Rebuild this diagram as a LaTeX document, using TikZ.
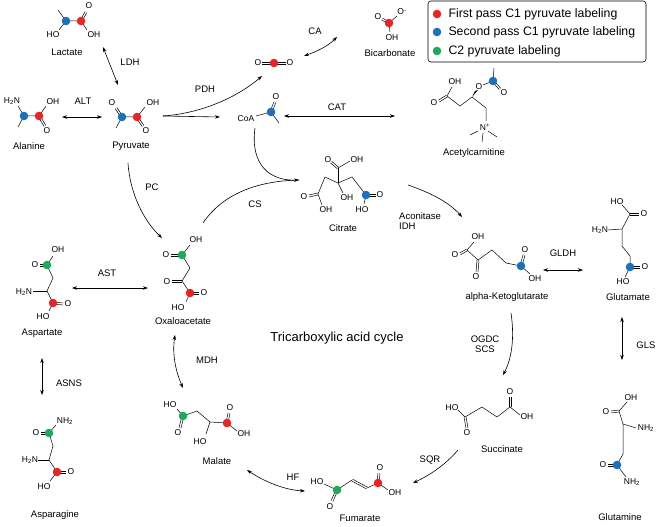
\documentclass[tikz,border=0pt]{standalone}
\usepackage{fontspec}
\setmainfont{Liberation Sans}
\usetikzlibrary{arrows.meta}
\usetikzlibrary{positioning}
\usetikzlibrary{calc}
\definecolor{firstpass}{RGB}{228,38,38}
\definecolor{secondpass}{RGB}{30,112,184}
\definecolor{ctwo}{RGB}{34,168,88}
\newcommand{\pdot}[2]{\fill[#1] #2 circle (4.3pt);}
\newcommand{\dbl}[2]{%
  \draw[bond] ($#1!1pt!90:#2$) -- ($#2!1pt!-90:#1$);
  \draw[bond] ($#1!1pt!-90:#2$) -- ($#2!1pt!90:#1$);}
\tikzset{
  bond/.style={line width=0.5pt},
  atm/.style={font=\fontsize{8.5}{8.5}\selectfont, inner sep=0.5pt},
  mol/.style={font=\fontsize{9.5}{9.5}\selectfont, inner sep=1pt},
  enz/.style={font=\fontsize{9.5}{9.5}\selectfont, inner sep=1pt},
  rxn/.style={-{Stealth[length=5pt,width=3.5pt]}, line width=0.6pt},
  rev/.style={{Stealth[length=5pt,width=3.5pt]}-{Stealth[length=5pt,width=3.5pt]}, line width=0.6pt}
}

\begin{document}
\begin{tikzpicture}[x=1pt,y=-1pt]
  \useasboundingbox (0,0) rectangle (657,527);

  % ---------- Legend ----------
  \draw[rounded corners=3pt, line width=0.6pt] (428,1) rectangle (646,62);
  \pdot{firstpass}{(437,14)}
  \pdot{secondpass}{(437,32)}
  \pdot{ctwo}{(437,51)}
  \node[anchor=west, font=\fontsize{12.3}{12.3}\selectfont] (lg1) at (445,14) {First pass C1 pyruvate labeling};
  \node[anchor=west, font=\fontsize{12.3}{12.3}\selectfont] (lg2) at (445,32) {Second pass C1 pyruvate labeling};
  \node[anchor=west, font=\fontsize{12.3}{12.3}\selectfont] (lg3) at (445,51) {C2 pyruvate labeling};

  % ---------- Lactate ----------
  \draw[bond] (58,10) -- (66,21) -- (81,21) -- (87,30);
  \draw[bond] (66,21) -- (59,30);
  \dbl{(81,21)}{(86,12)}
  \pdot{secondpass}{(66,21)} \pdot{firstpass}{(81,21)}
  \node[atm] at (53,35) {HO};
  \node[atm] at (89,6) {O};
  \node[atm] at (94,35) {OH};
  \node[mol] (lactate) at (67,52) {Lactate};

  % ---------- Pyruvate ----------
  \draw[bond] (116,128) -- (122,117) -- (137,117) -- (145,107);
  \dbl{(122,117)}{(116,108)}
  \dbl{(137,117)}{(143,126)}
  \pdot{secondpass}{(122,117)} \pdot{firstpass}{(137,117)}
  \node[atm] at (112,103) {O};
  \node[atm] at (153,103) {OH};
  \node[atm] at (146,131) {O};
  \node[mol] (pyruvate) at (131,146) {Pyruvate};

  % ---------- Alanine ----------
  \draw[bond] (18,106) -- (24,116) -- (39,116) -- (46,106);
  \draw[bond] (24,116) -- (18,127);
  \dbl{(39,116)}{(45,126)}
  \pdot{secondpass}{(24,116)} \pdot{firstpass}{(39,116)}
  \node[atm] at (12,101) {H\textsubscript{2}N};
  \node[atm] at (53,102) {OH};
  \node[atm] at (47,131) {O};
  \node[mol] (alanine) at (29,146) {Alanine};

  % ---------- CO2 and bicarbonate ----------
  \dbl{(262,63)}{(286,63)}
  \pdot{firstpass}{(274,63)}
  \node[atm] at (258,63) {O};
  \node[atm] at (290,63) {O};
  \dbl{(382,19)}{(389,23)}
  \draw[bond] (389,23) -- (397,16);
  \draw[bond] (389,23) -- (390,32);
  \pdot{firstpass}{(389,23)}
  \node[atm] at (378,17) {O};
  \node[atm] at (402,12) {O\textsuperscript{-}};
  \node[atm] at (392,38) {OH};
  \node[mol] (bicarb) at (390,53) {Bicarbonate};

  % ---------- Acetyl-CoA ----------
  \draw[bond] (256,116) -- (271,112) -- (279,123);
  \dbl{(271,112)}{(275,102)}
  \pdot{secondpass}{(271,112)}
  \node[atm] at (246,119) {CoA};
  \node[atm] at (276,97) {O};

  % ---------- Acetylcarnitine ----------
  \draw[bond] (452,87) -- (447,96) -- (460,106) -- (472,97);
  \fill (472,97) -- (478,90) -- (475,91) -- cycle;
  \draw[bond] (472,97) -- (486,108) -- (486,121);
  \dbl{(447,96)}{(439,101)}
  \draw[bond] (483,85) -- (493,81) -- (494,68);
  \dbl{(493,81)}{(500,89)}
  \draw[bond] (478,131) -- (470,135);
  \draw[bond] (488,131) -- (497,137);
  \draw[bond] (483,133) -- (482,142);
  \pdot{secondpass}{(493,81)}
  \node[atm] at (455,82) {OH};
  \node[atm] at (434,103) {O};
  \node[atm] at (479,87) {O};
  \node[atm] at (504,93) {O};
  \node[atm] at (485,127) {N\textsuperscript{+}};
  \node[mol] (acetylcarn) at (474,153) {Acetylcarnitine};

  % ---------- Citrate ----------
  \draw[bond] (338,168) -- (338,183);
  \draw[bond] (338,168) -- (350,161);
  \dbl{(338,168)}{(331,162)}
  \draw[bond] (325,177) -- (338,183) -- (352,177) -- (366,195) -- (364,204);
  \draw[bond] (325,177) -- (318,194) -- (322,205);
  \dbl{(318,194)}{(309,196)}
  \draw[bond] (338,183) -- (343,193);
  \dbl{(366,195)}{(376,195)}
  \pdot{secondpass}{(366,195)}
  \node[atm] at (328,160) {O};
  \node[atm] at (357,160) {OH};
  \node[atm] at (304,197) {O};
  \node[atm] at (326,210) {OH};
  \node[atm] at (347,198) {OH};
  \node[atm] at (362,210) {HO};
  \node[atm] at (380,195) {O};
  \node[mol] (citrate) at (343,228) {Citrate};

  % ---------- Oxaloacetate ----------
  \draw[bond] (190,245) -- (182,255) -- (190,268) -- (182,281) -- (190,293) -- (186,302);
  \dbl{(171,255)}{(182,255)}
  \dbl{(172,281)}{(182,281)}
  \dbl{(190,293)}{(199,293)}
  \pdot{ctwo}{(182,255)} \pdot{firstpass}{(190,293)}
  \node[atm] at (166,255) {O};
  \node[atm] at (196,240) {OH};
  \node[atm] at (167,282) {O};
  \node[atm] at (204,293) {O};
  \node[atm] at (178,308) {HO};
  \node[mol] (oaa) at (183,321) {Oxaloacetate};

  % ---------- Aspartate ----------
  \draw[bond] (53,256) -- (47,265) -- (53,278) -- (47,291) -- (53,303) -- (49,311);
  \draw[bond] (33,291) -- (47,291);
  \dbl{(40,265)}{(47,265)}
  \dbl{(53,303)}{(63,304)}
  \pdot{ctwo}{(47,265)} \pdot{firstpass}{(53,303)}
  \node[atm] at (35,265) {O};
  \node[atm] at (58,250) {OH};
  \node[atm] at (24,292) {H\textsubscript{2}N};
  \node[atm] at (68,304) {O};
  \node[atm] at (43,317) {HO};
  \node[mol] (aspartate) at (42,333) {Aspartate};

  % ---------- Asparagine ----------
  \draw[bond] (56,425) -- (49,433) -- (53,446) -- (49,460) -- (57,472) -- (50,481);
  \draw[bond] (38,460) -- (49,460);
  \dbl{(41,433)}{(49,433)}
  \dbl{(57,472)}{(66,472)}
  \pdot{ctwo}{(49,433)} \pdot{firstpass}{(57,472)}
  \node[atm] at (36,433) {O};
  \node[atm] at (65,421) {NH\textsubscript{2}};
  \node[atm] at (30,460) {H\textsubscript{2}N};
  \node[atm] at (71,472) {O};
  \node[atm] at (44,487) {HO};
  \node[mol] (asparagine) at (55,515) {Asparagine};

  % ---------- Malate ----------
  \draw[bond] (177,409) -- (183,416) -- (197,411) -- (210,422) -- (227,423) -- (237,431);
  \draw[bond] (210,422) -- (206,434);
  \dbl{(183,416)}{(180,428)}
  \dbl{(227,423)}{(229,413)}
  \pdot{ctwo}{(183,416)} \pdot{firstpass}{(227,423)}
  \node[atm] at (170,405) {HO};
  \node[atm] at (178,433) {O};
  \node[atm] at (200,442) {HO};
  \node[atm] at (230,408) {O};
  \node[atm] at (244,434) {OH};
  \node[mol] (malate) at (217,461) {Malate};

  % ---------- Fumarate ----------
  \draw[bond] (324,484) -- (337,490) -- (352,480);
  \dbl{(352,480)}{(367,488)}
  \draw[bond] (367,488) -- (378,483) -- (388,490);
  \dbl{(337,490)}{(332,501)}
  \dbl{(378,483)}{(379,473)}
  \pdot{ctwo}{(337,490)} \pdot{firstpass}{(378,483)}
  \node[atm] at (317,482) {HO};
  \node[atm] at (330,507) {O};
  \node[atm] at (380,468) {O};
  \node[atm] at (395,493) {OH};
  \node[mol] (fumarate) at (360,518) {Fumarate};

  % ---------- Succinate ----------
  \draw[bond] (458,410) -- (465,417) -- (482,407) -- (497,417) -- (510,407) -- (520,415);
  \dbl{(465,417)}{(467,428)}
  \dbl{(510,407)}{(510,397)}
  \node[atm] at (452,408) {HO};
  \node[atm] at (467,433) {O};
  \node[atm] at (510,392) {O};
  \node[atm] at (527,417) {OH};
  \node[mol] (succinate) at (502,449) {Succinate};

  % ---------- alpha-Ketoglutarate ----------
  \draw[bond] (474,242) -- (467,250) -- (478,260) -- (492,250) -- (506,263) -- (521,266) -- (530,274);
  \dbl{(467,250)}{(460,254)}
  \dbl{(478,260)}{(477,272)}
  \dbl{(521,266)}{(524,255)}
  \pdot{secondpass}{(521,266)}
  \node[atm] at (478,237) {OH};
  \node[atm] at (455,255) {O};
  \node[atm] at (476,277) {O};
  \node[atm] at (525,250) {O};
  \node[atm] at (535,279) {OH};
  \node[mol] (akg) at (507,297) {alpha-Ketoglutarate};

  % ---------- Glutamate ----------
  \draw[bond] (622,205) -- (630,214) -- (622,229) -- (622,246) -- (630,256) -- (630,267) -- (625,277);
  \draw[bond] (608,230) -- (622,229);
  \dbl{(630,214)}{(639,214)}
  \dbl{(630,267)}{(640,267)}
  \pdot{secondpass}{(630,267)}
  \node[atm] at (617,202) {HO};
  \node[atm] at (644,214) {O};
  \node[atm] at (600,230) {H\textsubscript{2}N};
  \node[atm] at (645,267) {O};
  \node[atm] at (623,282) {HO};
  \node[mol] (glutamate) at (628,297) {Glutamate};

  % ---------- Glutamine ----------
  \draw[bond] (627,402) -- (619,411) -- (623,424) -- (623,440) -- (623,454) -- (617,465) -- (626,477);
  \draw[bond] (623,424) -- (636,428);
  \dbl{(619,411)}{(611,412)}
  \dbl{(617,465)}{(608,465)}
  \pdot{secondpass}{(617,465)}
  \node[atm] at (631,398) {OH};
  \node[atm] at (606,412) {O};
  \node[atm] at (646,428) {NH\textsubscript{2}};
  \node[atm] at (603,465) {O};
  \node[atm] at (632,482) {NH\textsubscript{2}};
  \node[mol] (glutamine) at (620,517) {Glutamine};

  % ---------- Reactions ----------
  \coordinate (ldhA) at (103,47);  \coordinate (ldhB) at (118,85);
  \coordinate (altA) at (62,117);  \coordinate (altB) at (102,117);
  \coordinate (pdhA) at (163,116); \coordinate (pdhB) at (262,76);
  \coordinate (pdhC) at (220,117);
  \coordinate (caA) at (304,56);   \coordinate (caB) at (337,37);
  \coordinate (catA) at (284,116); \coordinate (catB) at (395,116);
  \coordinate (csA) at (255,128);  \coordinate (csB) at (299,180);
  \coordinate (csC) at (203,223);
  \coordinate (pcA) at (128,163);  \coordinate (pcB) at (162,238);
  \coordinate (aconA) at (408,185); \coordinate (aconB) at (462,217);
  \coordinate (gldhA) at (543,270); \coordinate (gldhB) at (583,270);
  \coordinate (ogdcA) at (511,313); \coordinate (ogdcB) at (503,375);
  \coordinate (glsA) at (622,317);  \coordinate (glsB) at (622,360);
  \coordinate (sqrA) at (458,450);  \coordinate (sqrB) at (413,483);
  \coordinate (hfA) at (247,470);   \coordinate (hfB) at (305,491);
  \coordinate (mdhA) at (175,335);  \coordinate (mdhB) at (183,388);
  \coordinate (astA) at (72,288);   \coordinate (astB) at (148,288);
  \coordinate (asnsA) at (42,358);  \coordinate (asnsB) at (42,395);

  \draw[rev] (ldhA) -- (ldhB);
  \draw[rev] (altA) -- (altB);
  \draw[rxn] (pdhA) .. controls (205,113) and (240,95) .. (pdhB);
  \draw[rxn] (pdhA) -- (pdhC);
  \draw[rev] (caA) .. controls (318,51) and (328,46) .. (caB);
  \draw[rev] (catA) -- (catB);
  \draw[rxn] (csA) .. controls (250,165) and (270,181) .. (csB);
  \draw[line width=0.6pt] (csC) .. controls (222,195) and (255,181) .. (csB);
  \draw[rxn] (pcA) .. controls (130,195) and (145,222) .. (pcB);
  \draw[rxn] (aconA) .. controls (428,192) and (448,201) .. (aconB);
  \draw[rev] (gldhA) -- (gldhB);
  \draw[rxn] (ogdcA) .. controls (515,340) and (511,360) .. (ogdcB);
  \draw[rev] (glsA) -- (glsB);
  \draw[rxn] (sqrA) .. controls (446,464) and (432,474) .. (sqrB);
  \draw[rev] (hfA) .. controls (265,482) and (285,490) .. (hfB);
  \draw[rev] (mdhA) .. controls (172,355) and (176,372) .. (mdhB);
  \draw[rev] (astA) -- (astB);
  \draw[rev] (asnsA) -- (asnsB);

  % ---------- Enzyme labels ----------
  \node[enz] at (130,62) {LDH};
  \node[enz] at (83,101) {ALT};
  \node[enz] at (205,89) {PDH};
  \node[enz] at (315,31) {CA};
  \node[enz] at (337,107) {CAT};
  \node[enz] at (255,204) {CS};
  \node[enz] at (152,187) {PC};
  \node[enz, anchor=west, align=left] at (398,221) {Aconitase\\IDH};
  \node[enz] at (563,253) {GLDH};
  \node[enz, align=center] at (485,344) {OGDC\\SCS};
  \node[enz] at (646,345) {GLS};
  \node[enz] at (430,460) {SQR};
  \node[enz] at (293,477) {HF};
  \node[enz] at (207,360) {MDH};
  \node[enz] at (107,273) {AST};
  \node[enz] at (69,383) {ASNS};
  \node[font=\fontsize{13}{13}\selectfont] (tca) at (337,338) {Tricarboxylic acid cycle};
\end{tikzpicture}
\end{document}
